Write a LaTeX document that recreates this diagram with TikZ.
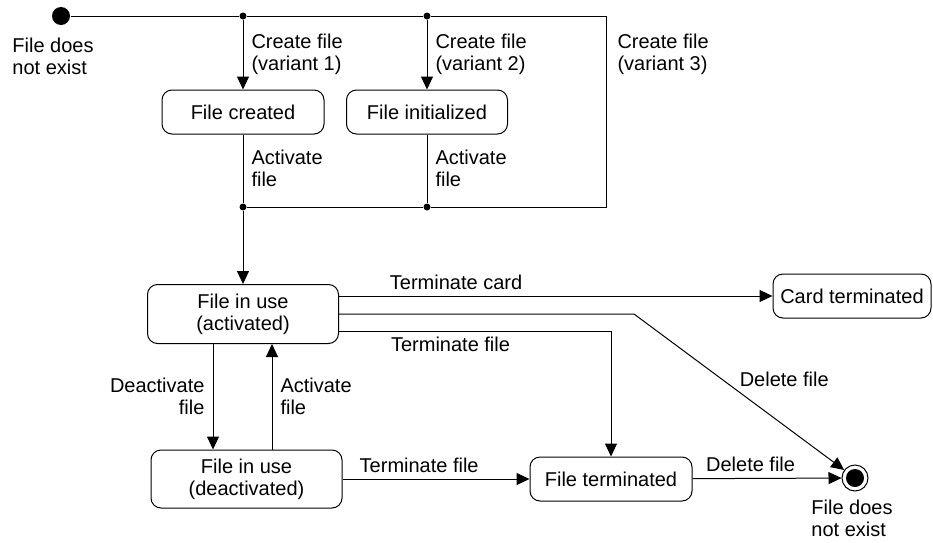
\documentclass[tikz,border=0pt]{standalone}
\usepackage{fontspec}
\setmainfont{Liberation Sans}
\usepackage{tikz}
\usetikzlibrary{positioning,arrows.meta}

\tikzset{
  st/.style={draw, rounded corners=5pt, align=center, minimum height=22pt, inner sep=2pt},
  arr/.style={-{Triangle[length=6.5pt,width=6pt]}},
  junc/.style={circle, fill, inner sep=0pt, minimum size=3.5pt},
  lbl/.style={align=left, inner xsep=4pt, inner ysep=3pt}
}

\begin{document}
\begin{tikzpicture}[x=0.5pt, y=-0.5pt, line width=0.5pt, font=\fontsize{10}{11}\selectfont]
                \useasboundingbox (0,0) rectangle (933,542);
                % start and junctions
                \node[circle, fill, minimum size=9pt, inner sep=0pt](init) at (61,16){};
                \node[lbl, below=3pt of init, xshift=-4pt](initl){File does\\not exist};
                \node[junc](j1) at (243,16){};
                \node[junc](j2) at (427,16){};
                \node[junc](j3) at (243,207){};
                \node[junc](j4) at (427,207){};
                \coordinate (c1) at (606,16);
                \coordinate (c2) at (606,207);
                \coordinate (b1) at (634,314);
                \coordinate (b2) at (611,331);
                % states
                \node[st, minimum width=81pt](created) at (243,112){File created};
                \node[st, minimum width=80.5pt](initd) at (427,112){File initialized};
                \node[st, minimum width=95.5pt, minimum height=29.5pt](act) at (243,314){File in use\\(activated)};
                \node[st, minimum width=95.5pt, minimum height=29pt](deact) at (246.5,479){File in use\\(deactivated)};
                \node[st, minimum width=79pt](card) at (852,296){Card terminated};
                \node[st, minimum width=81pt](term) at (611,479){File terminated};
                \node[circle, draw, minimum size=13pt, inner sep=0pt](final) at (855,478){};
                \fill (final.center) circle (4.5pt);
                \node[lbl, below=1pt of final, xshift=-1.5pt](finall){File does\\not exist};
                % transitions
                \draw (init) -- (j1) -- (j2) -- (c1) -- node[lbl, right, pos=0.2, xshift=1.5pt] {Create file\\(variant 3)} (c2) -- (j4) -- (j3);
                \path (j1) edge[arr] node[lbl, right] {Create file\\(variant 1)} (created);
                \path (j2) edge[arr] node[lbl, right] {Create file\\(variant 2)} (initd);
                \path (created) edge node[lbl, right] {Activate\\file} (j3);
                \path (initd) edge node[lbl, right] {Activate\\file} (j4);
                \path (j3) edge[arr] (act);
                \path (act.east |- card) edge[arr] node[lbl, above, pos=0.27] {Terminate card} (card);
                \draw[arr] (act.east) -- (b1) -- node[lbl, right, pos=0.42, xshift=4.5pt] {Delete file} (final);
                \draw[arr] (act.east |- b2) -- node[lbl, below, pos=0.41] {Terminate file} (b2) -- (term);
                \draw[arr] ([xshift=-15pt]act.south) -- node[lbl, left, align=right] {Deactivate\\file} ([xshift=-15pt]act.south |- deact.north);
                \draw[arr] ([xshift=14.5pt]act.south |- deact.north) -- node[lbl, right] {Activate\\file} ([xshift=14.5pt]act.south);
                \path (deact) edge[arr] node[lbl, above, pos=0.41] {Terminate file} (term);
                \path (term) edge[arr] node[lbl, above, pos=0.39] {Delete file} (final);
                \end{tikzpicture}
\end{document}
